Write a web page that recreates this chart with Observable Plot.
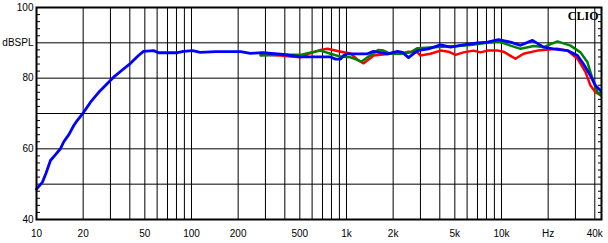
<!DOCTYPE html>
<html><head><meta charset="utf-8">
<script src="https://cdn.jsdelivr.net/npm/d3@7"></script>
<script src="https://cdn.jsdelivr.net/npm/@observablehq/plot@0.6"></script>
<style>html,body{margin:0;padding:0;background:#fff} svg{display:block}</style>
</head><body><div id="chart"></div>
<script>
// Blue trace
const blueFreq = [10, 10.9, 11.5, 12.3, 13.1, 14.3, 15.0, 16.2, 17.4, 18.3, 20.2, 22.3, 25.2, 29.3, 32, 36.4, 40.4, 45.5, 49, 56.9, 61.3, 70, 81.2, 88.8, 101.6, 114, 143, 207, 240, 287, 392, 505, 788, 849, 915, 957, 1014, 1366, 1494, 1839, 2133, 2298, 2512, 2872, 3381, 4041, 4688, 5686, 7003, 8122, 9563, 11430, 13265, 15849, 18664, 21650, 26660, 30930, 33810, 37510, 40420, 43520];
const blueDb   = [48.6, 50.5, 53.0, 56.7, 58.1, 60.1, 62.0, 64.1, 66.6, 68.0, 70.4, 73.2, 76.0, 78.9, 80.6, 82.6, 84.2, 86.4, 87.6, 87.8, 87.2, 87.2, 87.2, 87.6, 87.8, 87.3, 87.5, 87.5, 87.0, 87.2, 86.7, 86.0, 86.0, 85.4, 85.4, 86.4, 86.9, 86.9, 87.6, 86.9, 87.6, 87.3, 85.8, 87.8, 88.3, 89.4, 88.8, 89.4, 90.0, 90.2, 90.9, 90.2, 89.3, 90.7, 88.8, 88.3, 87.8, 86.4, 84.0, 80.7, 77.9, 76.5];
// Red trace
const redFreq = [279, 375, 435, 505, 569, 680, 754, 888, 1061, 1178, 1290, 1428, 1494, 1657, 1922, 2231, 2512, 2872, 3002, 3484, 4041, 4551, 5050, 5686, 6597, 7320, 8122, 9500, 10301, 12310, 13868, 17077, 22975, 26660, 30930, 34840, 37510, 40420, 43520];
const redDb   = [86.7, 86.4, 86.1, 85.9, 86.9, 88.0, 88.3, 87.6, 87.0, 85.2, 84.2, 85.7, 86.4, 86.6, 86.9, 86.9, 87.5, 87.3, 86.4, 86.9, 87.8, 87.5, 86.6, 87.3, 87.8, 87.3, 87.8, 87.8, 87.5, 85.5, 86.9, 87.8, 88.3, 87.8, 85.5, 81.7, 77.9, 76.0, 75.3];
// Green trace
const greenFreq = [279, 375, 505, 569, 680, 788, 915, 1061, 1178, 1250, 1428, 1609, 1733, 1922, 2231, 2588, 2872, 3865, 5201, 6310, 8122, 9563, 11430, 13265, 16170, 18664, 22975, 27870, 32340, 35880, 38650, 41630, 43520];
const greenDb   = [86.4, 86.6, 86.6, 87.1, 87.8, 86.9, 86.1, 85.9, 85.2, 84.7, 86.5, 88.0, 87.8, 86.9, 86.9, 87.3, 88.5, 88.8, 89.1, 89.4, 90.0, 90.4, 89.2, 88.3, 89.1, 88.8, 90.4, 89.2, 87.3, 84.5, 79.8, 76.0, 75.1];

const xGrid = [20,30,40,50,60,70,80,90,100,200,300,400,500,600,700,800,900,1000,2000,3000,4000,5000,6000,7000,8000,9000,10000,20000,30000,40000];
const yGrid = [50,60,70,80,90];
const yMinor = [42,44,46,48,52,54,56,58,62,64,66,68,72,74,76,78,82,84,86,88,92,94,96,98];
const yTicks = [40,60,80,90,100];
const yTickText = ["40","60","80","dBSPL","100"];
const xTicks = [10,20,50,100,200,500,1000,2000,5000,10000,20000,40000];
const xTickText = ["10","20","50","100","200","500","1k","2k","5k","10k","Hz","40k"];

const series = (f, d) => f.map((v, i) => ({f: v, db: d[i]}));
const red = series(redFreq, redDb), green = series(greenFreq, greenDb), blue = series(blueFreq, blueDb);
const xLabels = xTicks.map((v, i) => ({f: v, t: xTickText[i]}));

const chart = Plot.plot({
  width: 608, height: 243,
  marginLeft: 36, marginRight: 7, marginTop: 7, marginBottom: 24,
  x: {type: "log", domain: [10, 44180], axis: null},
  y: {domain: [40, 100], axis: null},
  style: {fontFamily: "'Liberation Sans', Arial, sans-serif", fontSize: "10px", color: "#000", background: "#fff"},
  marks: [
    Plot.ruleX(xGrid, {stroke: "#000", strokeWidth: 1}),
    Plot.ruleY(yGrid, {stroke: "#000", strokeWidth: 1}),
    Plot.ruleY(yMinor, {stroke: "#000", insetRight: 561}),
    Plot.ruleY(yMinor, {stroke: "#000", insetLeft: 562}),
    Plot.axisY({ticks: yTicks, anchor: "left", label: null, tickSize: 0, tickPadding: 3, tickFormat: d => yTickText[yTicks.indexOf(d)], fill: "#000"}),
    Plot.text(xLabels, {x: "f", text: "t", frameAnchor: "bottom", lineAnchor: "middle", dy: 14, fill: "#000", fontSize: 10}),
    Plot.line(red, {x: "f", y: "db", stroke: "#ff0000", strokeWidth: 2.5}),
    Plot.line(green, {x: "f", y: "db", stroke: "#008000", strokeWidth: 2.5}),
    Plot.line(blue, {x: "f", y: "db", stroke: "#0000ff", strokeWidth: 2.8}),
    Plot.frame({stroke: "#000", strokeWidth: 2}),
    Plot.text(["CLIO"], {frameAnchor: "top-right", dx: -3, dy: 4, lineAnchor: "top", textAnchor: "end", fontFamily: "'Liberation Serif', 'Times New Roman', serif", fontWeight: "bold", fontSize: 12, fill: "#000"})
  ]
});
document.getElementById("chart").appendChild(chart);
</script>
</body></html>
